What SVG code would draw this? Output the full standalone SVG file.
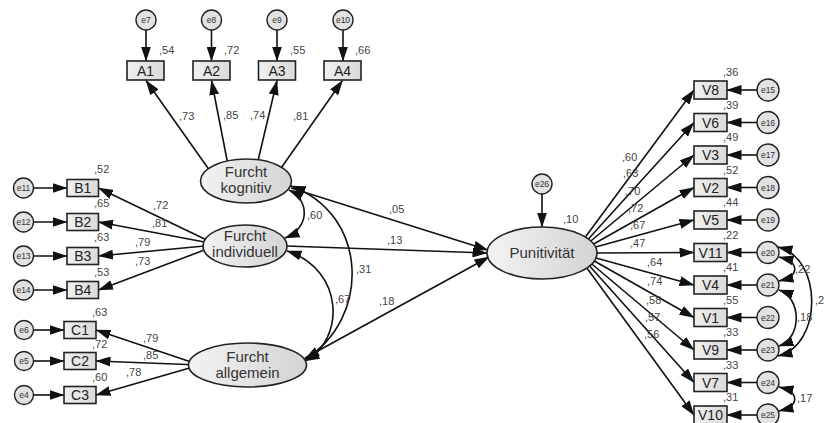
<svg xmlns="http://www.w3.org/2000/svg" width="824" height="423" viewBox="0 0 824 423">
<defs>
<marker id="arr" markerWidth="15" markerHeight="10" refX="14.5" refY="5" orient="auto-start-reverse" markerUnits="userSpaceOnUse"><path d="M0,0 L15,5 L0,10 z" fill="#111"/></marker>
<linearGradient id="gE" x1="0" y1="0" x2="1" y2="0"><stop offset="0" stop-color="#f2f2f2"/><stop offset="1" stop-color="#d4d4d4"/></linearGradient>
<linearGradient id="gB" x1="0" y1="0" x2="1" y2="0"><stop offset="0" stop-color="#f0f0f0"/><stop offset="1" stop-color="#dadada"/></linearGradient>
</defs>
<style>
#connectors line,#connectors path{stroke:#111;stroke-width:1.6;fill:none}
.a{marker-end:url(#arr)}
.d{marker-start:url(#arr);marker-end:url(#arr)}
.box{fill:url(#gB);stroke:#222;stroke-width:1.6}
.ell{fill:url(#gE);stroke:#222;stroke-width:1.6}
.err{fill:#e2e2e2;stroke:#222;stroke-width:1.4}
text{font-family:"Liberation Sans",Arial,sans-serif}
.bt{font-size:14px;fill:#222;text-anchor:middle}
.et{font-size:15px;fill:#333;text-anchor:middle}
.st{font-size:8.5px;fill:#333;text-anchor:middle}
.n{font-size:11px;fill:#444}
</style>
<g id="connectors">
<!-- error arrows top -->
<line class="a" x1="146" y1="30" x2="146" y2="61"/>
<line class="a" x1="211.5" y1="30" x2="211.5" y2="61"/>
<line class="a" x1="277" y1="30" x2="277" y2="61"/>
<line class="a" x1="343" y1="30" x2="343" y2="61"/>
<!-- kognitiv to A -->
<line class="a" x1="210" y1="171" x2="146" y2="80.5"/>
<line class="a" x1="228" y1="165" x2="211.5" y2="80.5"/>
<line class="a" x1="257" y1="165" x2="277" y2="80.5"/>
<line class="a" x1="279" y1="171" x2="342.5" y2="80.5"/>
<!-- error arrows B, C -->
<line class="a" x1="33.5" y1="188" x2="67" y2="188"/>
<line class="a" x1="33.5" y1="222" x2="67" y2="222"/>
<line class="a" x1="33.5" y1="256" x2="67" y2="256"/>
<line class="a" x1="33.5" y1="290" x2="67" y2="290"/>
<line class="a" x1="34" y1="330" x2="64" y2="330"/>
<line class="a" x1="34" y1="361" x2="64" y2="361"/>
<line class="a" x1="34" y1="395" x2="64" y2="395"/>
<!-- individuell to B -->
<line class="a" x1="215" y1="244" x2="98.5" y2="188"/>
<line class="a" x1="215" y1="244" x2="98.5" y2="222"/>
<line class="a" x1="215" y1="245" x2="98.5" y2="256"/>
<line class="a" x1="215" y1="246" x2="98.5" y2="290"/>
<!-- allgemein to C -->
<line class="a" x1="200" y1="365" x2="96" y2="330"/>
<line class="a" x1="200" y1="365" x2="96" y2="361"/>
<line class="a" x1="200" y1="365" x2="96" y2="395"/>
<!-- regressions to Punitivitaet -->
<line class="a" x1="291" y1="188" x2="488" y2="250"/>
<line class="a" x1="286" y1="246" x2="487" y2="253"/>
<line class="a" x1="305" y1="358" x2="489" y2="257"/>
<line class="a" x1="542" y1="194" x2="542" y2="227"/>
<!-- covariances left -->
<path class="d" d="M289,190 C310,200 310,228 285,238"/>
<path class="d" d="M291,186 C370,215 370,320 305,359"/>
<path class="d" d="M287,251 C345,270 345,340 305,361"/>
<!-- Punitivitaet to V -->
<line class="a" x1="585.4" y1="237" x2="694" y2="90"/>
<line class="a" x1="588.4" y1="239" x2="694" y2="122.5"/>
<line class="a" x1="590.8" y1="241" x2="694" y2="155"/>
<line class="a" x1="593.6" y1="244" x2="694" y2="187.5"/>
<line class="a" x1="595.5" y1="247" x2="694" y2="220"/>
<line class="a" x1="597" y1="253" x2="694" y2="252.5"/>
<line class="a" x1="596" y1="258" x2="694" y2="285"/>
<line class="a" x1="594.3" y1="261" x2="694" y2="317.5"/>
<line class="a" x1="591.8" y1="264" x2="694" y2="350"/>
<line class="a" x1="589.6" y1="266" x2="694" y2="382.5"/>
<line class="a" x1="586.9" y1="268" x2="694" y2="415"/>
<!-- error arrows V -->
<line class="a" x1="757" y1="90" x2="727" y2="90"/>
<line class="a" x1="757" y1="122.5" x2="727" y2="122.5"/>
<line class="a" x1="757" y1="155" x2="727" y2="155"/>
<line class="a" x1="757" y1="187.5" x2="727" y2="187.5"/>
<line class="a" x1="757" y1="220" x2="727" y2="220"/>
<line class="a" x1="757" y1="252.5" x2="727" y2="252.5"/>
<line class="a" x1="757" y1="285" x2="727" y2="285"/>
<line class="a" x1="757" y1="317.5" x2="727" y2="317.5"/>
<line class="a" x1="757" y1="350" x2="727" y2="350"/>
<line class="a" x1="757" y1="382.5" x2="727" y2="382.5"/>
<line class="a" x1="757" y1="415" x2="727" y2="415"/>
<!-- covariances right -->
<path class="d" d="M779,257 C800,262 800,276 779,281"/>
<path class="d" d="M778,247 C823,258 823,345 778,356"/>
<path class="d" d="M779,290 C802,298 802,338 779,346"/>
<path class="d" d="M779,387 C800,392 800,406 779,411"/>
<!-- path labels -->
<text class="n" x="179" y="120">,73</text>
<text class="n" x="223" y="119">,85</text>
<text class="n" x="250" y="119">,74</text>
<text class="n" x="293" y="120">,81</text>
<text class="n" x="153" y="209">,72</text>
<text class="n" x="152" y="227">,81</text>
<text class="n" x="135" y="246">,79</text>
<text class="n" x="135" y="265">,73</text>
<text class="n" x="143" y="342">,79</text>
<text class="n" x="143" y="359">,85</text>
<text class="n" x="126" y="376">,78</text>
<text class="n" x="307" y="219">,60</text>
<text class="n" x="389" y="213">,05</text>
<text class="n" x="387" y="244">,13</text>
<text class="n" x="356" y="273">,31</text>
<text class="n" x="335" y="303">,67</text>
<text class="n" x="379" y="305">,18</text>
<text class="n" x="622" y="161">,60</text>
<text class="n" x="623" y="177">,63</text>
<text class="n" x="625" y="195">,70</text>
<text class="n" x="628" y="212">,72</text>
<text class="n" x="630" y="229">,67</text>
<text class="n" x="630" y="247">,47</text>
<text class="n" x="647" y="266">,64</text>
<text class="n" x="647" y="285">,74</text>
<text class="n" x="646" y="304">,58</text>
<text class="n" x="645" y="321">,57</text>
<text class="n" x="644" y="338">,56</text>
<text class="n" x="795" y="273">,22</text>
<text class="n" x="815" y="304">,2</text>
<text class="n" x="797" y="321">,18</text>
<text class="n" x="797" y="402">,17</text>
</g>
<!-- top indicators -->
<g id="e7"><circle class="err" cx="146" cy="20" r="10"/><text class="st" x="146" y="23">e7</text></g>
<g id="e8"><circle class="err" cx="211.5" cy="20" r="10"/><text class="st" x="211.5" y="23">e8</text></g>
<g id="e9"><circle class="err" cx="277" cy="20" r="10"/><text class="st" x="277" y="23">e9</text></g>
<g id="e10"><circle class="err" cx="343" cy="20" r="10"/><text class="st" x="343" y="23">e10</text></g>
<g id="A1"><rect class="box" x="127" y="61" width="37" height="19"/><text class="bt" x="145.5" y="75.5">A1</text><text class="n" x="159" y="54">,54</text></g>
<g id="A2"><rect class="box" x="193" y="61" width="37" height="19"/><text class="bt" x="211.5" y="75.5">A2</text><text class="n" x="224" y="54">,72</text></g>
<g id="A3"><rect class="box" x="258.5" y="61" width="37" height="19"/><text class="bt" x="277" y="75.5">A3</text><text class="n" x="290" y="54">,55</text></g>
<g id="A4"><rect class="box" x="324" y="61" width="37" height="19"/><text class="bt" x="342.5" y="75.5">A4</text><text class="n" x="355" y="54">,66</text></g>
<!-- B -->
<g id="e11"><circle class="err" cx="23.5" cy="188" r="10"/><text class="st" x="23.5" y="191">e11</text></g>
<g id="e12"><circle class="err" cx="23.5" cy="222" r="10"/><text class="st" x="23.5" y="225">e12</text></g>
<g id="e13"><circle class="err" cx="23.5" cy="256" r="10"/><text class="st" x="23.5" y="259">e13</text></g>
<g id="e14"><circle class="err" cx="23.5" cy="290" r="10"/><text class="st" x="23.5" y="293">e14</text></g>
<g id="B1"><rect class="box" x="67" y="179.5" width="31.5" height="17"/><text class="bt" x="82.7" y="193">B1</text><text class="n" x="94" y="173">,52</text></g>
<g id="B2"><rect class="box" x="67" y="213.5" width="31.5" height="17"/><text class="bt" x="82.7" y="227">B2</text><text class="n" x="94" y="207">,65</text></g>
<g id="B3"><rect class="box" x="67" y="247.5" width="31.5" height="17"/><text class="bt" x="82.7" y="261">B3</text><text class="n" x="94" y="241">,63</text></g>
<g id="B4"><rect class="box" x="67" y="281.5" width="31.5" height="17"/><text class="bt" x="82.7" y="295">B4</text><text class="n" x="94" y="276">,53</text></g>
<!-- C -->
<g id="e6"><circle class="err" cx="24" cy="330" r="9.5"/><text class="st" x="24" y="333">e6</text></g>
<g id="e5"><circle class="err" cx="24" cy="361" r="9.5"/><text class="st" x="24" y="364">e5</text></g>
<g id="e4"><circle class="err" cx="24" cy="395" r="9.5"/><text class="st" x="24" y="398">e4</text></g>
<g id="C1"><rect class="box" x="64" y="321.5" width="32" height="17"/><text class="bt" x="80" y="335">C1</text><text class="n" x="92" y="316">,63</text></g>
<g id="C2"><rect class="box" x="64" y="352.5" width="32" height="17"/><text class="bt" x="80" y="366">C2</text><text class="n" x="92" y="348">,72</text></g>
<g id="C3"><rect class="box" x="64" y="386.5" width="32" height="17"/><text class="bt" x="80" y="400">C3</text><text class="n" x="92" y="381">,60</text></g>
<!-- latent -->
<g id="kognitiv"><ellipse class="ell" cx="246" cy="181" rx="45.5" ry="22"/><text class="et" x="246" y="177">Furcht</text><text class="et" x="246" y="193">kognitiv</text></g>
<g id="individuell"><ellipse class="ell" cx="245" cy="246" rx="42" ry="21"/><text class="et" x="245" y="241">Furcht</text><text class="et" x="245" y="257">individuell</text></g>
<g id="allgemein"><ellipse class="ell" cx="247.5" cy="365" rx="59" ry="22"/><text class="et" x="247.5" y="362">Furcht</text><text class="et" x="247.5" y="378">allgemein</text></g>
<g id="e26"><circle class="err" cx="542" cy="184" r="10"/><text class="st" x="542" y="187">e26</text></g>
<g id="Punitivitaet"><ellipse class="ell" cx="542" cy="253" rx="55" ry="26"/><text class="et" x="542" y="258">Punitivität</text><text class="n" x="563" y="223">,10</text></g>
<!-- V -->
<g id="V8"><rect class="box" x="694" y="81" width="33" height="18"/><text class="bt" x="710.5" y="95">V8</text><text class="n" x="723" y="76">,36</text></g>
<g id="V6"><rect class="box" x="694" y="113.5" width="33" height="18"/><text class="bt" x="710.5" y="127.5">V6</text><text class="n" x="723" y="108.5">,39</text></g>
<g id="V3"><rect class="box" x="694" y="146" width="33" height="18"/><text class="bt" x="710.5" y="160">V3</text><text class="n" x="723" y="141">,49</text></g>
<g id="V2"><rect class="box" x="694" y="178.5" width="33" height="18"/><text class="bt" x="710.5" y="192.5">V2</text><text class="n" x="723" y="173.5">,52</text></g>
<g id="V5"><rect class="box" x="694" y="211" width="33" height="18"/><text class="bt" x="710.5" y="225">V5</text><text class="n" x="723" y="206">,44</text></g>
<g id="V11"><rect class="box" x="694" y="243.5" width="33" height="18"/><text class="bt" x="710.5" y="257.5">V11</text><text class="n" x="723" y="238.5">,22</text></g>
<g id="V4"><rect class="box" x="694" y="276" width="33" height="18"/><text class="bt" x="710.5" y="290">V4</text><text class="n" x="723" y="271">,41</text></g>
<g id="V1"><rect class="box" x="694" y="308.5" width="33" height="18"/><text class="bt" x="710.5" y="322.5">V1</text><text class="n" x="723" y="303.5">,55</text></g>
<g id="V9"><rect class="box" x="694" y="341" width="33" height="18"/><text class="bt" x="710.5" y="355">V9</text><text class="n" x="723" y="336">,33</text></g>
<g id="V7"><rect class="box" x="694" y="373.5" width="33" height="18"/><text class="bt" x="710.5" y="387.5">V7</text><text class="n" x="723" y="368.5">,33</text></g>
<g id="V10"><rect class="box" x="694" y="406" width="33" height="18"/><text class="bt" x="710.5" y="420">V10</text><text class="n" x="723" y="401">,31</text></g>
<g id="e15"><circle class="err" cx="768" cy="90" r="11"/><text class="st" x="768" y="93">e15</text></g>
<g id="e16"><circle class="err" cx="768" cy="122.5" r="11"/><text class="st" x="768" y="125.5">e16</text></g>
<g id="e17"><circle class="err" cx="768" cy="155" r="11"/><text class="st" x="768" y="158">e17</text></g>
<g id="e18"><circle class="err" cx="768" cy="187.5" r="11"/><text class="st" x="768" y="190.5">e18</text></g>
<g id="e19"><circle class="err" cx="768" cy="220" r="11"/><text class="st" x="768" y="223">e19</text></g>
<g id="e20"><circle class="err" cx="768" cy="252.5" r="11"/><text class="st" x="768" y="255.5">e20</text></g>
<g id="e21"><circle class="err" cx="768" cy="285" r="11"/><text class="st" x="768" y="288">e21</text></g>
<g id="e22"><circle class="err" cx="768" cy="317.5" r="11"/><text class="st" x="768" y="320.5">e22</text></g>
<g id="e23"><circle class="err" cx="768" cy="350" r="11"/><text class="st" x="768" y="353">e23</text></g>
<g id="e24"><circle class="err" cx="768" cy="382.5" r="11"/><text class="st" x="768" y="385.5">e24</text></g>
<g id="e25"><circle class="err" cx="768" cy="415" r="11"/><text class="st" x="768" y="418">e25</text></g>
</svg>
